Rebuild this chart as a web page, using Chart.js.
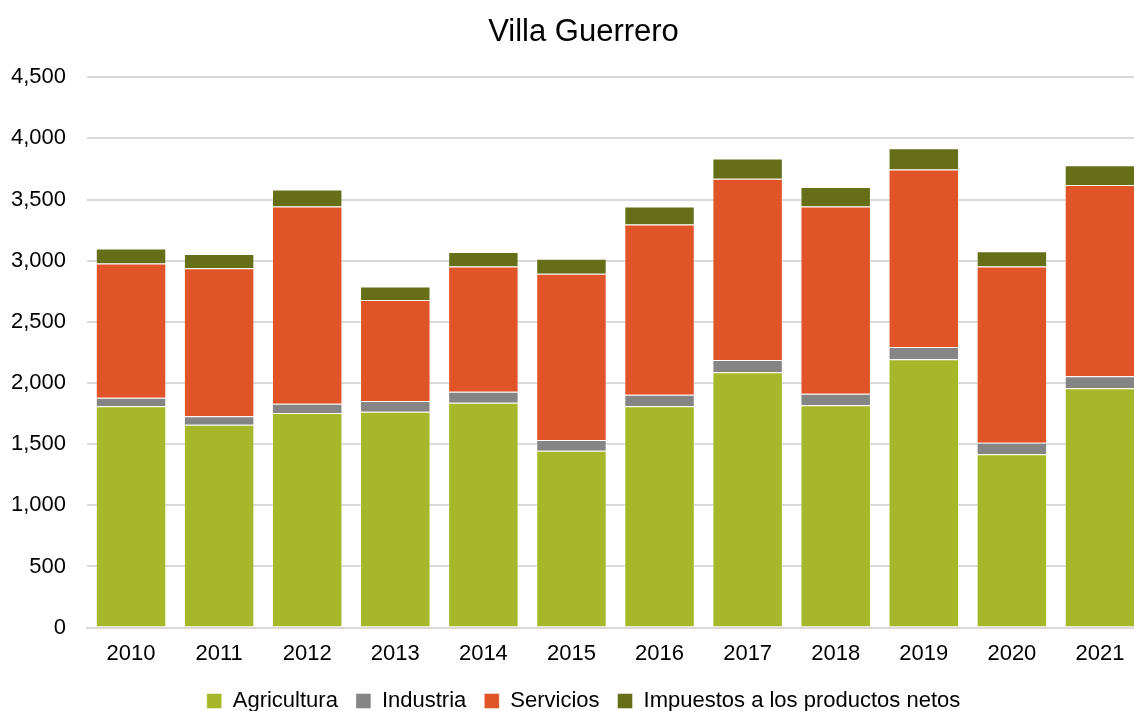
<!DOCTYPE html>
<html lang="es">
<head>
    <meta charset="UTF-8">
    <title>Villa Guerrero</title>
    <script src="https://cdn.jsdelivr.net/npm/chart.js"></script>
    <style>
        html, body {
            margin: 0;
            padding: 0;
            background: #ffffff;
            overflow: hidden;
        }
        .chart-box {
            position: relative;
            width: 1168px;
            height: 722px;
        }
    </style>
</head>
<body>
    <div class="chart-box">
        <canvas id="chart"></canvas>
    </div>

    <script>
        // Data
        const years = ['2010', '2011', '2012', '2013', '2014', '2015', '2016', '2017', '2018', '2019', '2020', '2021'];
        const agricultura = [1809, 1659, 1754, 1765, 1839, 1446, 1809, 2087, 1817, 2193, 1418, 1956];
        const industria = [71, 68, 77, 87, 90, 88, 95, 100, 95, 101, 93, 100];
        const servicios = [1096, 1211, 1612, 826, 1023, 1359, 1391, 1482, 1531, 1451, 1441, 1563];
        const impuestos = [123, 117, 139, 110, 119, 123, 148, 166, 160, 175, 125, 162];
        const yTicks = [0, 500, 1000, 1500, 2000, 2500, 3000, 3500, 4000, 4500];

        const font = "'Liberation Sans', Arial, sans-serif";

        function series(label, data, color) {
            return {
                label: label,
                data: data,
                backgroundColor: color,
                borderColor: 'rgba(255, 255, 255, 0.45)',
                borderWidth: 1,
                barPercentage: 0.8,
                categoryPercentage: 1.0
            };
        }

        // title and legend sit a little right of the plot centre in the original
        const nudgeBlocks = {
            id: 'nudgeBlocks',
            afterLayout(chart) {
                [chart.titleBlock, chart.legend].forEach(b => {
                    b.left += 6;
                    b.right += 6;
                });
            }
        };

        new Chart(document.getElementById('chart'), {
            type: 'bar',
            data: {
                labels: years,
                datasets: [
                    series('Agricultura', agricultura, '#a6b72a'),
                    series('Industria', industria, '#858585'),
                    series('Servicios', servicios, '#e05427'),
                    series('Impuestos a los productos netos', impuestos, '#666f18')
                ]
            },
            plugins: [nudgeBlocks],
            options: {
                responsive: true,
                maintainAspectRatio: false,
                animation: false,
                layout: {
                    padding: { left: 11, right: 24, top: 14, bottom: 0 }
                },
                plugins: {
                    title: {
                        display: true,
                        text: 'Villa Guerrero',
                        color: '#000000',
                        font: { family: font, size: 31, weight: 'normal' },
                        padding: { top: 0, bottom: 26 }
                    },
                    legend: {
                        position: 'bottom',
                        labels: {
                            color: '#000000',
                            font: { family: font, size: 22 },
                            boxWidth: 15,
                            boxHeight: 15,
                            padding: 18
                        }
                    },
                    tooltip: { enabled: false }
                },
                scales: {
                    x: {
                        stacked: true,
                        grid: { display: false },
                        border: { color: '#d9d9d9', width: 2 },
                        ticks: {
                            color: '#000000',
                            font: { family: font, size: 22 },
                            padding: 5
                        }
                    },
                    y: {
                        stacked: true,
                        min: 0,
                        max: 4500,
                        afterBuildTicks: axis => {
                            axis.ticks = yTicks.map(v => ({ value: v }));
                        },
                        afterFit: axis => {
                            axis.width = 76;
                        },
                        grid: {
                            color: '#d9d9d9',
                            lineWidth: 2,
                            drawTicks: false
                        },
                        border: { display: false },
                        ticks: {
                            color: '#000000',
                            font: { family: font, size: 22 },
                            padding: 21,
                            callback: v => v.toLocaleString('en-US')
                        }
                    }
                }
            }
        });
    </script>
</body>
</html>
